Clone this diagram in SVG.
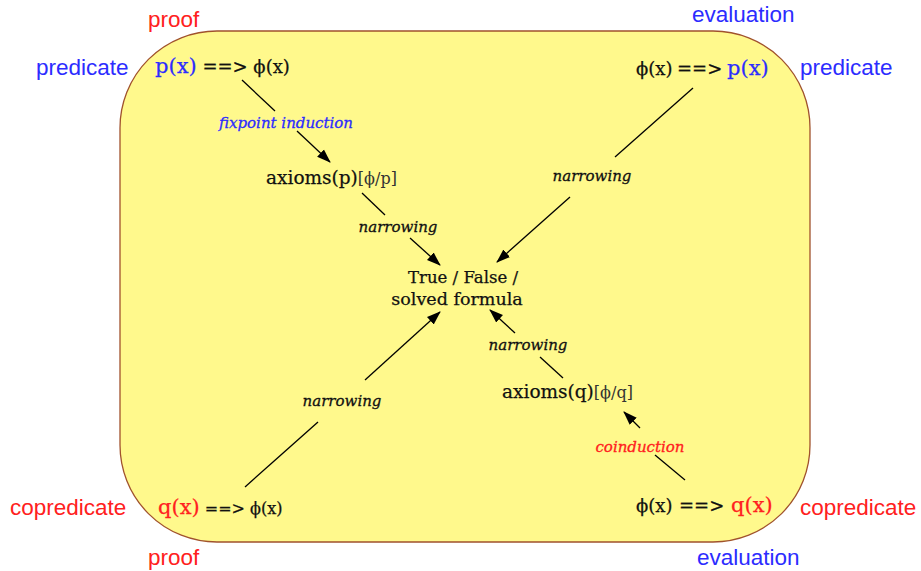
<svg xmlns="http://www.w3.org/2000/svg" width="921" height="571" viewBox="0 0 921 571">
<style>
.side{font-family:"Liberation Sans",Arial,sans-serif;font-size:22.5px}
.m{font-family:"DejaVu Serif","Liberation Serif",serif;fill:#111;stroke:#111;stroke-width:0.25}
.lbl{font-family:"DejaVu Serif","Liberation Serif",serif;font-style:italic;font-size:15px;fill:#111;stroke:#111;stroke-width:0.3}
.red{fill:#ff2020;stroke:#ff2020}
.blue{fill:#2c2cff;stroke:#2c2cff}
.side.red,.side.blue{stroke:none}
.sub{fill:#333;stroke:none}
.ln{stroke:#000;stroke-width:1.3;fill:none}
</style>
<defs>
<marker id="ah" markerUnits="userSpaceOnUse" markerWidth="14" markerHeight="12" refX="13" refY="5" orient="auto" viewBox="0 0 14 10">
<path d="M0,0 L14,5 L0,10 Z" fill="#000"/>
</marker>
</defs>
<rect x="120" y="31" width="690" height="511" rx="97" ry="97" fill="#fff98c" stroke="#a0522d" stroke-width="1.3"/>

<g id="outer-labels">
<text class="side red" x="148" y="27">proof</text>
<text class="side blue" x="36" y="75">predicate</text>
<text class="side blue" x="692" y="22">evaluation</text>
<text class="side blue" x="800" y="75">predicate</text>
<text class="side red" x="10" y="515">copredicate</text>
<text class="side red" x="800" y="515">copredicate</text>
<text class="side red" x="148" y="565">proof</text>
<text class="side blue" x="697" y="565">evaluation</text>
</g>

<g id="node-tl">
<text class="m" x="155" y="73" font-size="18"><tspan class="blue" font-size="21">p(x)</tspan> ==&gt; ϕ(x)</text>
</g>
<g id="node-tr">
<text class="m" x="636" y="75" font-size="18">ϕ(x)<tspan x="677">==&gt;</tspan><tspan class="blue" font-size="21" x="727">p(x)</tspan></text>
</g>
<g id="node-axp">
<text class="m" x="266" y="184" font-size="18.5">axioms(p)<tspan class="sub" font-size="16">[ϕ/p]</tspan></text>
</g>
<g id="node-center">
<text class="m" x="463" y="283" font-size="17" text-anchor="middle" textLength="110" lengthAdjust="spacingAndGlyphs">True / False /</text>
<text class="m" x="457" y="305" font-size="17.5" text-anchor="middle">solved formula</text>
</g>
<g id="node-axq">
<text class="m" x="502" y="398" font-size="18.5">axioms(q)<tspan class="sub" font-size="16">[ϕ/q]</tspan></text>
</g>
<g id="node-bl">
<text class="m" x="158" y="514" font-size="16"><tspan class="red" font-size="21">q(x)</tspan> ==&gt; ϕ(x)</text>
</g>
<g id="node-br">
<text class="m" x="636" y="512" font-size="18">ϕ(x)<tspan x="679">==&gt;</tspan><tspan class="red" font-size="21" x="731">q(x)</tspan></text>
</g>

<g id="connectors">
<path class="ln" d="M242,80 L275,111"/>
<path class="ln" d="M297,131 L330,162" marker-end="url(#ah)"/>
<text class="lbl blue" x="286" y="128" text-anchor="middle">fixpoint induction</text>

<path class="ln" d="M362,193 L385,215"/>
<path class="ln" d="M410,238 L440,265" marker-end="url(#ah)"/>
<text class="lbl" x="398" y="232" text-anchor="middle">narrowing</text>

<path class="ln" d="M693,88 L615,157"/>
<path class="ln" d="M570,197 L497,262" marker-end="url(#ah)"/>
<text class="lbl" x="592" y="181" text-anchor="middle">narrowing</text>

<path class="ln" d="M245,487 L318,422"/>
<path class="ln" d="M365,380 L440,312" marker-end="url(#ah)"/>
<text class="lbl" x="342" y="406" text-anchor="middle">narrowing</text>

<path class="ln" d="M563,378 L540,357"/>
<path class="ln" d="M515,333 L490,310" marker-end="url(#ah)"/>
<text class="lbl" x="528" y="350" text-anchor="middle">narrowing</text>

<path class="ln" d="M685,480 L655,455"/>
<path class="ln" d="M640,428 L624,412" marker-end="url(#ah)"/>
<text class="lbl red" x="640" y="452" text-anchor="middle">coinduction</text>
</g>
</svg>
